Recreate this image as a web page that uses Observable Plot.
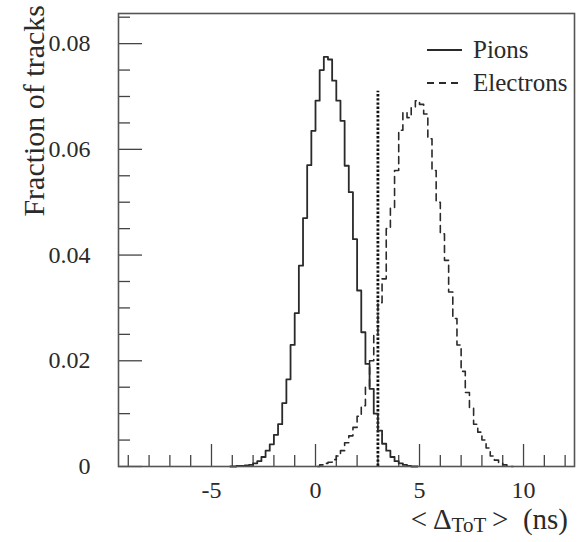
<!DOCTYPE html>
<html><head><meta charset="utf-8">
<script src="https://cdn.jsdelivr.net/npm/d3@7"></script>
<script src="https://cdn.jsdelivr.net/npm/@observablehq/plot@0.6"></script>
<style>html,body{margin:0;padding:0;background:#fff;}</style>
</head><body><div id="chart"></div>
<script>
// ---- data ----
const binWidth = 0.2;
const pionFirstCenter = -4.1;
const pionValues = [0, 0.0000, 0.0001, 0.0001, 0.0002, 0.0003, 0.0006, 0.0010, 0.0018, 0.0030,
  0.0042, 0.0060, 0.0080, 0.0120, 0.0165, 0.0230, 0.0290, 0.0380, 0.0470, 0.0570,
  0.0635, 0.0692, 0.0750, 0.0775, 0.0770, 0.0730, 0.0692, 0.0654, 0.0569, 0.0519,
  0.0430, 0.0333, 0.0254, 0.0194, 0.0147, 0.0100, 0.0068, 0.0043, 0.0030, 0.0018,
  0.0010, 0.0006, 0.0003, 0.0001, 0.0000, 0];
const electronFirstCenter = 0.1;
const electronValues = [0, 0.0003, 0.0006, 0.0008, 0.0013, 0.0020, 0.0030, 0.0045, 0.0058, 0.0074,
  0.0095, 0.0115, 0.0150, 0.0200, 0.0250, 0.0310, 0.0355, 0.0450, 0.0490, 0.0560,
  0.0636, 0.0670, 0.0660, 0.0680, 0.0692, 0.0685, 0.0667, 0.0620, 0.0560, 0.0500,
  0.0440, 0.0390, 0.0330, 0.0280, 0.0230, 0.0180, 0.0140, 0.0110, 0.0080, 0.0065,
  0.0050, 0.0035, 0.0020, 0.0012, 0.0006, 0.0003, 0.0001, 0];
const cutPosition = [3];
const cutTop = 0.071;
const xMajorTicks = [-5, 0, 5, 10];
const xMinorTicks = [-9, -8, -7, -6, -4, -3, -2, -1, 1, 2, 3, 4, 6, 7, 8, 9, 11, 12];
const yMajorTicks = [0, 0.02, 0.04, 0.06, 0.08];
const yMinorTicks = [0.005, 0.01, 0.015, 0.025, 0.03, 0.035, 0.045, 0.05, 0.055, 0.065, 0.07, 0.075, 0.085];
const seriesNames = ["Pions", "Electrons"];
const yTitle = "Fraction of tracks";

// ---- layout ----
const W = 577, H = 542;
const mL = 118, mR = 3, mT = 13, mB = 76;
const innerW = W - mL - mR, innerH = H - mT - mB;
const font = "'Liberation Serif', 'Times New Roman', serif";
const ink = "#2a2a2a";

const pions = pionValues.map((v, i) => ({x: pionFirstCenter + i * binWidth, y: v}));
const electrons = electronValues.map((v, i) => ({x: electronFirstCenter + i * binWidth, y: v}));

const chart = Plot.plot({
  width: W, height: H,
  marginLeft: mL, marginRight: mR, marginTop: mT, marginBottom: mB,
  style: {fontFamily: font, fontSize: "24px", color: ink, background: "#fff"},
  x: {domain: [-9.47, 12.45], label: null},
  y: {domain: [0, 0.0857], label: null},
  marks: [
    Plot.tickX(xMajorTicks, {x: d => d, insetTop: innerH - 22, stroke: "#444", strokeWidth: 1.3}),
    Plot.tickX(xMinorTicks, {x: d => d, insetTop: innerH - 11, stroke: "#444", strokeWidth: 1.3}),
    Plot.tickY(yMajorTicks, {y: d => d, insetRight: innerW - 24, stroke: "#444", strokeWidth: 1.3}),
    Plot.tickY(yMinorTicks, {y: d => d, insetRight: innerW - 12, stroke: "#444", strokeWidth: 1.3}),
    Plot.axisX({ticks: xMajorTicks, tickSize: 0, tickPadding: 14, label: null, fontSize: 24, tickFormat: d => String(d)}),
    Plot.axisY({ticks: yMajorTicks, tickSize: 0, tickPadding: 28, label: null, fontSize: 24,
      tickFormat: d => d === 0 ? "0" : d.toFixed(2)}),
    Plot.ruleX(cutPosition, {x: d => d, y1: 0, y2: cutTop, stroke: "#111", strokeWidth: 2.8, strokeDasharray: "2.4,1.8"}),
    Plot.line(electrons, {x: "x", y: "y", curve: "step", stroke: ink, strokeWidth: 1.6, strokeDasharray: "7,5"}),
    Plot.line(pions, {x: "x", y: "y", curve: "step", stroke: ink, strokeWidth: 1.8}),
    Plot.frame({stroke: "#555", strokeWidth: 1.6})
  ]
});
document.getElementById("chart").appendChild(chart);

// ---- annotations: legend, axis titles ----
const svg = d3.select(chart);
const leg = svg.append("g").attr("font-family", font).attr("font-size", 25).attr("fill", ink);
[["none", 50], ["7,5", 83]].forEach(([dash, y], i) => {
  leg.append("line").attr("x1", 427).attr("x2", 462).attr("y1", y).attr("y2", y)
    .attr("stroke", ink).attr("stroke-width", 1.8).attr("stroke-dasharray", dash === "none" ? null : dash);
  leg.append("text").attr("x", 473).attr("y", y).attr("dy", "0.32em").attr("text-anchor", "start")
    .style("font-family", font).text(seriesNames[i]);
});

svg.append("text").style("font-family", font).attr("font-size", 30).attr("fill", ink)
  .attr("transform", "translate(44,5) rotate(-90)").attr("text-anchor", "end").text(yTitle);

const xl = svg.append("text").style("font-family", font).attr("font-size", 29).attr("fill", ink)
  .attr("x", 568).attr("y", 529).attr("text-anchor", "end");
xl.append("tspan").text("<\u2009\u0394");
xl.append("tspan").attr("font-size", 21).attr("dy", 3).text("ToT");
xl.append("tspan").attr("dy", -3).text("\u2009>\u2002(ns)");
</script>
</body></html>
